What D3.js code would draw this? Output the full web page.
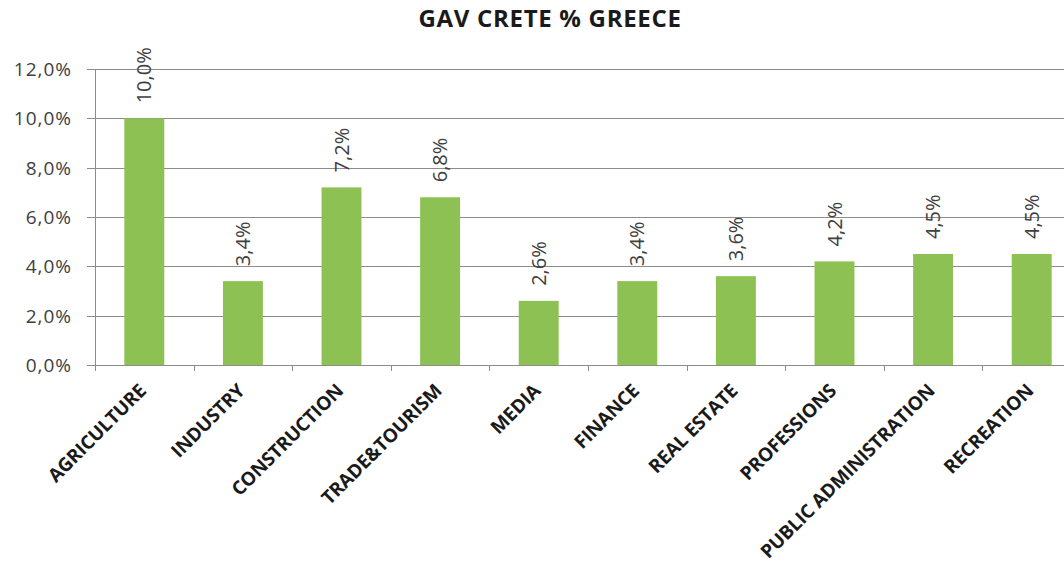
<!DOCTYPE html>
<html>
<head>
  <title>GAV Crete % Greece</title>
  <script src="https://d3js.org/d3.v7.min.js"></script>
  <style>
    body { margin: 0; background: #fff; }
  </style>
</head>
<body>
<svg width="1064" height="564"></svg>
<script>
  const categories = ["AGRICULTURE", "INDUSTRY", "CONSTRUCTION", "TRADE&TOURISM", "MEDIA",
                      "FINANCE", "REAL ESTATE", "PROFESSIONS", "PUBLIC ADMINISTRATION", "RECREATION"];
  const values = [10.0, 3.4, 7.2, 6.8, 2.6, 3.4, 3.6, 4.2, 4.5, 4.5];
  const yTicks = [0, 2, 4, 6, 8, 10, 12];

  const width = 1064, height = 564;
  const plotLeft = 95, plotTop = 69, plotBottom = 365, plotRight = 1081;

  const svg = d3.select("svg");
  const fmt = v => v.toFixed(1).replace(".", ",") + "%";

  const x = d3.scaleBand().domain(categories).range([plotLeft, plotRight]).paddingInner(0.595).paddingOuter(0.2975);
  const y = d3.scaleLinear().domain([0, 12]).range([plotBottom, plotTop]);

  // title
  svg.append("text")
    .attr("x", 550).attr("y", 27)
    .attr("text-anchor", "middle")
    .attr("font-family", "Open Sans")
    .attr("font-weight", "bold")
    .attr("font-size", 24)
    .attr("letter-spacing", 0.7)
    .attr("fill", "#1a1a1a")
    .text("GAV CRETE % GREECE");

  // gridlines
  svg.append("g").selectAll("line")
    .data(yTicks)
    .enter().append("line")
    .attr("x1", plotLeft - 8).attr("x2", width)
    .attr("y1", d => Math.round(y(d)) + 0.5).attr("y2", d => Math.round(y(d)) + 0.5)
    .attr("stroke", "#8c8c8c").attr("stroke-width", 1);

  // y tick labels
  svg.append("g").selectAll("text")
    .data(yTicks)
    .enter().append("text")
    .attr("x", 72).attr("y", d => y(d) + 7)
    .attr("text-anchor", "end")
    .attr("font-family", "Open Sans")
    .attr("font-size", 19)
    .attr("letter-spacing", 1)
    .attr("fill", "#404040")
    .text(d => fmt(d));

  // y axis line
  svg.append("line")
    .attr("x1", plotLeft + 0.5).attr("x2", plotLeft + 0.5)
    .attr("y1", y(12)).attr("y2", plotBottom + 6)
    .attr("stroke", "#8c8c8c");

  // category boundary ticks
  const gap = (x.step() - x.bandwidth()) / 2;
  svg.append("g").selectAll("line")
    .data(categories.slice(1))
    .enter().append("line")
    .attr("x1", d => Math.round(x(d) - gap) + 0.5)
    .attr("x2", d => Math.round(x(d) - gap) + 0.5)
    .attr("y1", plotBottom).attr("y2", plotBottom + 6)
    .attr("stroke", "#8c8c8c");

  // bars
  svg.append("g").selectAll("rect")
    .data(values)
    .enter().append("rect")
    .attr("x", (d, i) => x(categories[i]))
    .attr("y", d => y(d))
    .attr("width", x.bandwidth())
    .attr("height", d => plotBottom - y(d))
    .attr("fill", "#8dc153");

  // value labels
  svg.append("g").selectAll("text")
    .data(values)
    .enter().append("text")
    .attr("transform", (d, i) => "translate(" + (x(categories[i]) + x.bandwidth() / 2 + 7) + "," + (y(d) - 15) + ") rotate(-90)")
    .attr("font-family", "Open Sans")
    .attr("font-size", 20)
    .attr("fill", "#404040")
    .text(d => fmt(d));

  // category labels
  svg.append("g").selectAll("text")
    .data(categories)
    .enter().append("text")
    .attr("transform", d => "translate(" + (x(d) + x.bandwidth() / 2 + 3) + "," + (plotBottom + 27) + ") rotate(-45)")
    .attr("text-anchor", "end")
    .attr("font-family", "Open Sans")
    .attr("font-weight", "bold")
    .attr("font-size", 19)
    .attr("letter-spacing", -0.2)
    .attr("fill", "#1a1a1a")
    .text(d => d);
</script>
</body>
</html>
